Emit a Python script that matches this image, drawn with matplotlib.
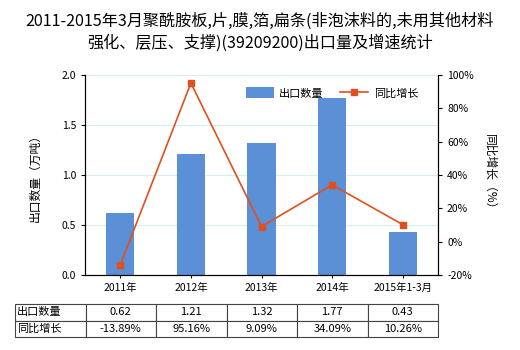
import numpy as np
import matplotlib.pyplot as plt

plt.rcParams['font.family'] = ['Noto Sans CJK SC', 'DejaVu Sans']
plt.rcParams['axes.unicode_minus'] = False

categories = ['2011年', '2012年', '2013年', '2014年', '2015年1-3月']
export_qty = [0.62, 1.21, 1.32, 1.77, 0.43]
growth = [-13.89, 95.16, 9.09, 34.09, 10.26]
qty_labels = ['0.62', '1.21', '1.32', '1.77', '0.43']
growth_labels = ['-13.89%', '95.16%', '9.09%', '34.09%', '10.26%']

bar_color = '#5b8fd6'
line_color = '#e0501e'

fig = plt.figure(figsize=(5.2, 3.5), dpi=100)
ax = fig.add_axes([85 / 520, 1 - 275 / 350, 353 / 520, 200 / 350])
x = np.arange(len(categories))

ax.set_axisbelow(True)
ax.grid(axis='y', color='#d5eef0', linewidth=0.8)
bars = ax.bar(x, export_qty, width=0.4, color=bar_color, label='出口数量', zorder=2)
ax.set_xlim(-0.5, len(categories) - 0.5)
ax.set_ylim(0, 2.0)
ax.set_yticks([0, 0.5, 1.0, 1.5, 2.0])
ax.set_yticklabels(['0.0', '0.5', '1.0', '1.5', '2.0'])
ax.set_xticks(x)
ax.set_xticklabels(categories)
ax.tick_params(axis='both', labelsize=7.5, length=3, color='black')
ax.tick_params(axis='x', length=2)
ax.set_ylabel('出口数量（万吨）', fontsize=8.5, labelpad=14)
ax.spines['top'].set_visible(False)

ax2 = ax.twinx()
line, = ax2.plot(x, growth, color=line_color, marker='s', markersize=4,
                 linewidth=1.2, label='同比增长', zorder=3)
ax2.set_ylim(-20, 100)
ax2.set_yticks(range(-20, 101, 20))
ax2.set_yticklabels([f'{v}%' for v in range(-20, 101, 20)])
ax2.tick_params(axis='y', labelsize=7.5, length=3)
ax2.set_ylabel('同比增长（%）', fontsize=8.5, rotation=270, labelpad=16)
ax2.spines['top'].set_visible(False)

ax.legend([bars, line], ['出口数量', '同比增长'], loc='center',
          bbox_to_anchor=(0.70, 0.91), ncol=2, frameon=False, fontsize=8,
          handlelength=2.5, handleheight=1.1, columnspacing=1.5,
          handletextpad=0.5)

fig.suptitle('2011-2015年3月聚酰胺板,片,膜,箔,扁条(非泡沫料的,未用其他材料\n'
             '强化、层压、支撑)(39209200)出口量及增速统计',
             fontsize=11.6, y=0.965, linespacing=1.4)

# data table under the chart, first column holds the row names
rows = [['出口数量'] + qty_labels, ['同比增长'] + growth_labels]
tbl = ax.table(cellText=rows, cellLoc='center',
               bbox=[-70 / 353, -0.31, 423 / 353, 0.165])
tbl.auto_set_font_size(False)
tbl.set_fontsize(8)
for (r, c), cell in tbl.get_celld().items():
    cell.set_edgecolor('#444444')
    cell.set_linewidth(0.8)
    if c == 0:
        cell._loc = 'left'
        cell.PAD = 0.03
        cell.get_text().set_ha('left')

fig.savefig('out.png', dpi=100)
